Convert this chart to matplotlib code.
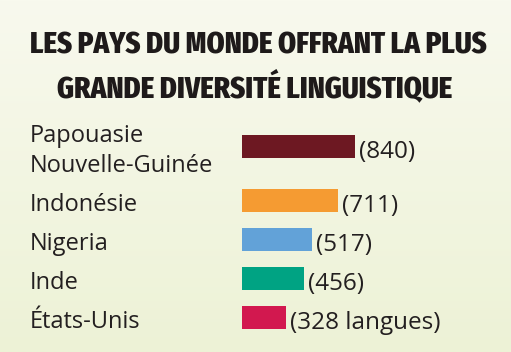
import numpy as np
import matplotlib
matplotlib.use("Agg")
import matplotlib.pyplot as plt
from matplotlib.transforms import blended_transform_factory

# ---- data ----
countries = ["Papouasie\nNouvelle-Guinée", "Indonésie", "Nigeria", "Inde", "États-Unis"]
languages = [840, 711, 517, 456, 328]
value_labels = ["(840)", "(711)", "(517)", "(456)", "(328 langues)"]
colors = ["#6d1822", "#f59b32", "#62a2d8", "#00a383", "#d2184f"]
title_lines = ["LES PAYS DU MONDE OFFRANT LA PLUS", "GRANDE DIVERSITÉ LINGUISTIQUE"]

W, H = 511, 352
DPI = 100
fig = plt.figure(figsize=(W / DPI, H / DPI), dpi=DPI)

# background gradient
bg = fig.add_axes([0, 0, 1, 1], zorder=-10)
grad = np.linspace(0, 1, 256)[:, None]
top = np.array([248, 249, 238]) / 255
bot = np.array([237, 242, 214]) / 255
img = top[None, None, :] * (1 - grad[..., None]) + bot[None, None, :] * grad[..., None]
bg.imshow(img, aspect="auto", extent=[0, 1, 0, 1], origin="upper")
bg.set_axis_off()

# title
title_font = dict(family=["Fira Sans Extra Condensed", "Roboto Condensed", "DejaVu Sans"],
                  weight=800, color="#1e1a1a")
fig.text(258 / W, 1 - 53 / H, title_lines[0], ha="center", va="baseline",
         fontsize=22.5, **title_font)
fig.text(255 / W, 1 - 97 / H, title_lines[1], ha="center", va="baseline",
         fontsize=22.5, **title_font)

# bar axes
ax_left, ax_top, ax_bot = 242, 110, 352
ax = fig.add_axes([ax_left / W, 1 - ax_bot / H, 1 - ax_left / W, (ax_bot - ax_top) / H])
pos = np.arange(len(languages), dtype=float)
pos[0] -= 0.385
unit = 39.0
ax.barh(pos, languages, height=23 / unit, color=colors, left=0)
ax.set_xlim(0, (W - ax_left) / 0.135)
ax.set_ylim(1 + (ax_bot - 200.5) / unit, 1 - (200.5 - ax_top) / unit)
ax.set_axis_off()

lab_font = dict(family=["Open Sans", "DejaVu Sans"], fontsize=17, color="#231f20")
val_font = dict(family=["Open Sans", "DejaVu Sans"], fontsize=17.5, color="#231f20")
trans = blended_transform_factory(fig.transFigure, ax.transData)
for i, (name, p) in enumerate(zip(countries, pos)):
    lines = name.split("\n")
    if len(lines) == 1:
        ax.annotate(name, xy=(30 / W, p), xycoords=trans, xytext=(0, -10.5),
                    textcoords="offset pixels", ha="left", va="baseline", **lab_font)
    else:
        ax.annotate(lines[0], xy=(30 / W, p), xycoords=trans, xytext=(0, 4.8),
                    textcoords="offset pixels", ha="left", va="baseline", **lab_font)
        ax.annotate(lines[1], xy=(30 / W, p), xycoords=trans, xytext=(0, -25.8),
                    textcoords="offset pixels", ha="left", va="baseline", **lab_font)

for v, lab, p in zip(languages, value_labels, pos):
    ax.annotate(lab, xy=(v, p), xycoords="data", xytext=(4, -11.5),
                textcoords="offset pixels", ha="left", va="baseline", **val_font)

fig.savefig("out.png", dpi=DPI)
